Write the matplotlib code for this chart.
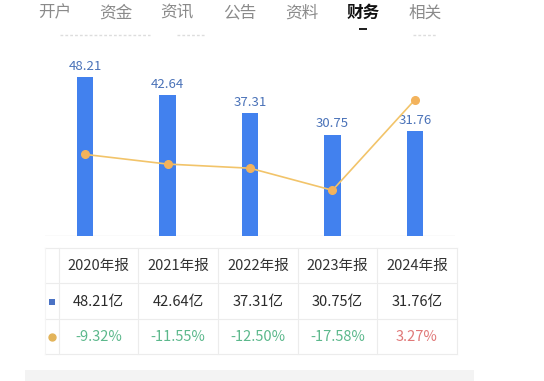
import matplotlib
matplotlib.use("Agg")
import matplotlib.pyplot as plt
from matplotlib.patches import Rectangle

plt.rcParams['font.family'] = ['Noto Sans CJK SC', 'DejaVu Sans']

# ---- data ----
tabs = ["开户", "资金", "资讯", "公告", "资料", "财务", "相关"]
active_tab = "财务"
periods = ["2020年报", "2021年报", "2022年报", "2023年报", "2024年报"]
revenue = [48.21, 42.64, 37.31, 30.75, 31.76]          # 亿
growth = [-9.32, -11.55, -12.50, -17.58, 3.27]          # %

W, H = 544, 381
fig = plt.figure(figsize=(W / 100, H / 100), dpi=100)
fig.patch.set_facecolor("white")

def frac(x0, y0, x1, y1):
    # pixel box (top-left origin) -> figure fraction rect
    return [x0 / W, 1 - y1 / H, (x1 - x0) / W, (y1 - y0) / H]

BAR_C = "#4281ee"
LINE_C = "#f2c46a"
MARK_C = "#f3b35c"
LABEL_C = "#4a72b8"

# ---- chart ----
ax = fig.add_axes(frac(45, 70, 455, 236))
x = list(range(len(periods)))
ax.bar(x, revenue, width=0.205, color=BAR_C, zorder=2)
for xi, v in zip(x, revenue):
    ax.annotate(f"{v:.2f}", (xi, v), xytext=(0, 3), textcoords="offset points",
                ha="center", va="bottom", fontsize=9.5, color=LABEL_C)
ax.set_xlim(-0.485, 4.485)
ax.set_ylim(0, 50.3)
ax.axhline(0, color="#e6e6e6", lw=1, zorder=1)
ax.axis("off")

ax2 = ax.twinx()
ax2.plot(x, growth, color=LINE_C, lw=1.2, marker="o", markersize=5.5,
         markerfacecolor=MARK_C, markeredgecolor=MARK_C, zorder=3)
ax2.set_ylim(-28.1, 10.1)
ax2.set_xlim(-0.485, 4.485)
ax2.axis("off")

# ---- overlay (pixel coords) ----
ov = fig.add_axes([0, 0, 1, 1], zorder=5)
ov.set_xlim(0, W)
ov.set_ylim(H, 0)
ov.axis("off")
ov.patch.set_alpha(0)

# tabs
tab_x = [55, 116, 177, 240, 302, 363, 425]
for t, tx in zip(tabs, tab_x):
    if t == active_tab:
        ov.text(tx, 13, t, ha="center", va="center", fontsize=12, color="#111111",
                fontweight="bold")
    else:
        ov.text(tx, 13, t, ha="center", va="center", fontsize=12, color="#8a8a8a")
ov.add_patch(Rectangle((359, 27.5), 8, 2.5, color="#222222", lw=0))

# clipped faint fragments of a hidden legend row
for a, b in [(60, 150), (177, 205), (413, 437)]:
    ov.plot([a, b], [35, 35], color="#dddddd", lw=1.0, dashes=(2, 1.5))

# table
col_lines = [59, 138, 218, 298, 377, 457]
row_lines = [248, 283, 319, 354]
LC = "#ececec"
ov.plot([45, 457], [248, 248], color=LC, lw=0.8)
for yl in row_lines[1:]:
    ov.plot([45, 457], [yl, yl], color=LC, lw=0.8)
ov.plot([45, 45], [248, 354], color="#f4f4f4", lw=0.8)
for xl in col_lines:
    ov.plot([xl, xl], [248, 354], color=LC, lw=0.8)

centers = [(col_lines[i] + col_lines[i + 1]) / 2 for i in range(5)]
for cx, p, v, g in zip(centers, periods, revenue, growth):
    ov.text(cx, 266, p, ha="center", va="center", fontsize=10.5, color="#333333")
    ov.text(cx, 302, f"{v:.2f}亿", ha="center", va="center", fontsize=10.5, color="#2a2a2a")
    gc = "#e07878" if g > 0 else "#5cb88c"
    ov.text(cx, 337, f"{g:.2f}%", ha="center", va="center", fontsize=10.5, color=gc)

ov.add_patch(Rectangle((49, 298.5), 6, 6, color="#4a72c4", lw=0))
ov.plot([52], [337], marker="o", markersize=5, color="#e3b45a")

# bottom gray band
ov.add_patch(Rectangle((25, 370), 449, 12, color="#f3f3f3", lw=0))

fig.savefig("out.png", dpi=100)
